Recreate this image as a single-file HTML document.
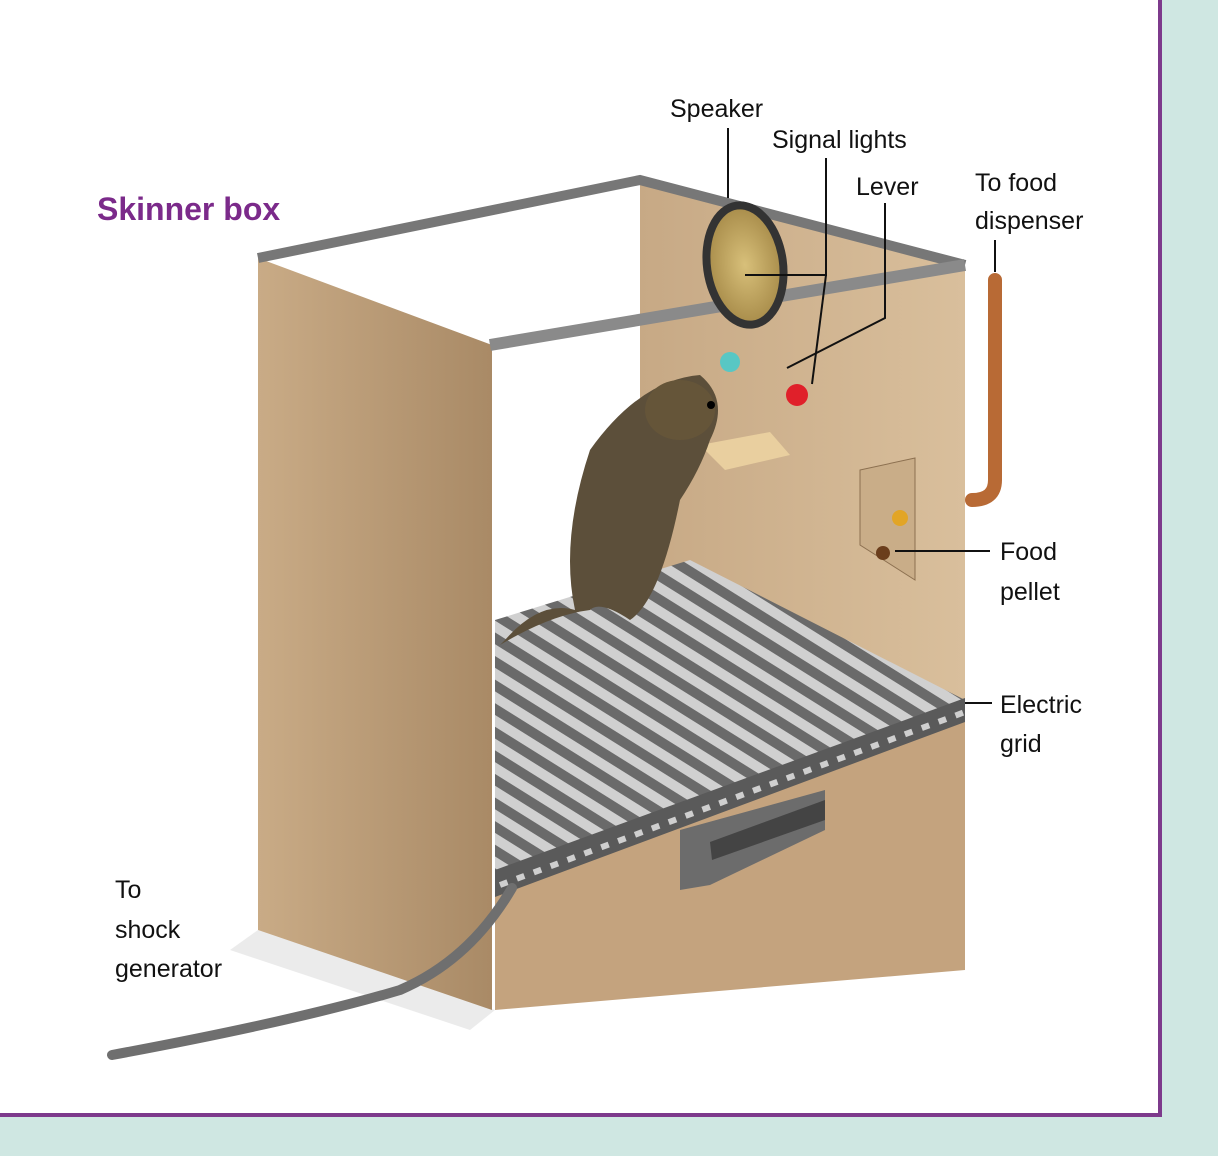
<!DOCTYPE html>
<html><head><meta charset="utf-8"><style>
html,body{margin:0;padding:0;background:#cfe7e2;}
svg{display:block}
text{font-family:"Liberation Sans",sans-serif;font-size:25px;fill:#111}
</style></head><body>
<svg width="1218" height="1156" viewBox="0 0 1218 1156">
<defs>
<linearGradient id="back" x1="0" x2="1" y1="0" y2="0"><stop offset="0" stop-color="#c7a985"/><stop offset="1" stop-color="#d9bf9c"/></linearGradient>
<linearGradient id="side" x1="0" x2="1"><stop offset="0" stop-color="#c9ab86"/><stop offset="1" stop-color="#a98a66"/></linearGradient>
<pattern id="bars" width="20" height="20" patternUnits="userSpaceOnUse" patternTransform="rotate(32)">
<rect width="20" height="20" fill="#6a6a6a"/><rect y="4" width="20" height="10" fill="#d0d0d0"/></pattern>
<radialGradient id="spk"><stop offset="0" stop-color="#d8c07a"/><stop offset="1" stop-color="#a88c4a"/></radialGradient>
</defs>
<rect x="0" y="0" width="1160" height="1113" fill="#fff"/>
<rect x="1158" y="0" width="4" height="1117" fill="#7d3a8c"/>
<rect x="0" y="1113" width="1162" height="4" fill="#7d3a8c"/>
<path d="M995 280 L995 480 Q995 500 972 500" stroke="#b86a35" stroke-width="14" fill="none" stroke-linecap="round"/>
<polygon points="640,180 965,265 965,970 640,900" fill="url(#back)"/>
<polygon points="258,930 495,1010 470,1030 230,950" fill="#ddd" opacity="0.6"/>
<polygon points="495,620 690,560 965,700 495,875" fill="url(#bars)"/>
<polygon points="495,880 965,705 965,970 495,1010" fill="#c4a37e"/>
<polygon points="495,870 965,698 965,722 495,897" fill="#5a5a5a"/>
<polyline points="500,885 965,712" stroke="#cfcfcf" stroke-width="6" stroke-dasharray="8 10"/>
<polygon points="680,830 825,790 825,830 710,885 680,890" fill="#6c6c6c"/>
<polygon points="710,842 825,800 825,820 712,860" fill="#444"/>
<polygon points="258,258 492,345 492,1010 258,930" fill="url(#side)"/>
<polyline points="258,258 640,180 965,265" stroke="#777" stroke-width="10" fill="none"/>
<line x1="490" y1="345" x2="965" y2="265" stroke="#8a8a8a" stroke-width="12"/>
<ellipse cx="745" cy="265" rx="38" ry="60" fill="url(#spk)" stroke="#333" stroke-width="8" transform="rotate(-8 745 265)"/>
<circle cx="730" cy="362" r="10" fill="#58c7c4"/>
<circle cx="797" cy="395" r="11" fill="#e0202a"/>
<polygon points="700,445 770,432 790,455 725,470" fill="#e9cf9f"/>
<polygon points="860,470 915,458 915,580 860,545" fill="#c9ad88" stroke="#8c7050"/>
<circle cx="900" cy="518" r="8" fill="#e2a526"/>
<circle cx="883" cy="553" r="7" fill="#6b3e1c"/>
<path d="M505 640 Q540 600 575 610 Q560 540 590 450 Q640 380 700 375 Q730 400 710 440 Q700 470 680 500 Q660 600 630 620 Q600 600 590 610 Q550 615 500 645Z" fill="#5c4f3a"/>
<ellipse cx="680" cy="410" rx="35" ry="30" fill="#655539"/>
<circle cx="711" cy="405" r="4" fill="#000"/>
<path d="M512 888 Q470 960 400 990 Q300 1020 112 1055" stroke="#6f6f6f" stroke-width="10" fill="none" stroke-linecap="round"/>
<g stroke="#111" stroke-width="2" fill="none">
<line x1="728" y1="128" x2="728" y2="198"/>
<polyline points="826,158 826,275 745,275"/>
<line x1="826" y1="275" x2="812" y2="384"/>
<polyline points="885,203 885,318 787,368"/>
<line x1="995" y1="240" x2="995" y2="272"/>
<line x1="895" y1="551" x2="990" y2="551"/>
<line x1="965" y1="703" x2="992" y2="703"/>
</g>
<text x="97" y="220" style="font-size:32px;font-weight:bold;fill:#7b2a8a">Skinner box</text>
<text x="670" y="117">Speaker</text>
<text x="772" y="148">Signal lights</text>
<text x="856" y="195">Lever</text>
<text x="975" y="191">To food</text>
<text x="975" y="229">dispenser</text>
<text x="1000" y="560">Food</text>
<text x="1000" y="600">pellet</text>
<text x="1000" y="713">Electric</text>
<text x="1000" y="752">grid</text>
<text x="115" y="898">To</text>
<text x="115" y="938">shock</text>
<text x="115" y="977">generator</text>
</svg>
</body></html>
